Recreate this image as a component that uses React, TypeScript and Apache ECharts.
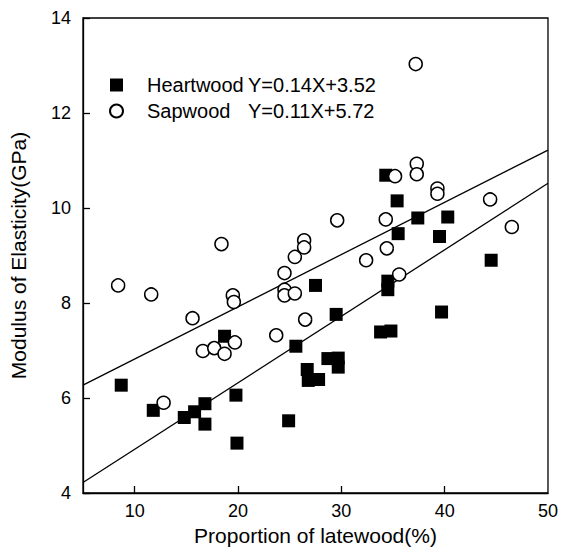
import React, { useEffect, useRef } from "react";
import * as echarts from "echarts";

const heartwoodX = [8.7, 11.8, 14.8, 15.8, 16.8, 16.8, 19.8, 19.9, 18.7, 24.9, 25.6, 26.7, 26.8, 27.8, 28.7, 29.7, 29.7, 27.5, 29.5, 33.8, 34.8, 34.5, 34.5, 34.3, 35.4, 35.5, 37.4, 39.5, 40.3, 39.7, 44.5];
const heartwoodY = [6.27, 5.74, 5.59, 5.71, 5.88, 5.45, 6.06, 5.05, 7.3, 5.52, 7.09, 6.6, 6.37, 6.39, 6.83, 6.84, 6.65, 8.37, 7.76, 7.39, 7.41, 8.46, 8.28, 10.69, 10.15, 9.46, 9.79, 9.4, 9.81, 7.81, 8.9];

const sapwoodX = [8.4, 11.6, 12.8, 15.6, 16.6, 17.7, 18.7, 19.7, 18.4, 19.5, 19.6, 23.7, 24.5, 24.5, 24.5, 25.5, 25.5, 26.4, 26.4, 26.5, 29.6, 32.4, 34.4, 34.3, 35.6, 35.2, 37.3, 37.3, 39.3, 39.3, 37.2, 44.4, 46.5];
const sapwoodY = [8.37, 8.18, 5.9, 7.68, 6.99, 7.05, 6.93, 7.17, 9.24, 8.16, 8.02, 7.32, 8.63, 8.28, 8.16, 8.2, 8.97, 9.32, 9.17, 7.65, 9.74, 8.9, 9.15, 9.76, 8.6, 10.67, 10.93, 10.71, 10.41, 10.3, 13.03, 10.18, 9.6];

// Regression lines as printed on the chart
const fitX = [5, 50];
const heartwoodFit = { slope: 0.14, intercept: 3.52 };
const sapwoodFit = { slope: 0.11, intercept: 5.72 };

const xLabelValues = [10, 20, 30, 40, 50];
const xTickValues = [10, 20, 30, 40];

const FONT = "Liberation Sans, Arial, sans-serif";

export default function App() {
  const ref = useRef<HTMLDivElement>(null);
  useEffect(() => {
    if (!ref.current) return;
    const chart = echarts.init(ref.current, undefined, { renderer: "svg" });
    const zip = (xs: number[], ys: number[]) => xs.map((x, i) => [x, ys[i]]);
    const fitLine = (f: { slope: number; intercept: number }) =>
      fitX.map((x) => [x, +(f.slope * x + f.intercept).toFixed(4)]);
    chart.setOption({
      animation: false,
      backgroundColor: "#fff",
      grid: {
        left: 76,
        right: 13,
        top: 18,
        bottom: 58,
        show: true,
        borderColor: "#000",
        borderWidth: 1.3,
      },
      legend: {
        orient: "vertical",
        left: 104,
        top: 70,
        itemWidth: 13,
        itemHeight: 13,
        itemGap: 6,
        data: [
          { name: "Heartwood", icon: "rect" },
          { name: "Sapwood", icon: "circle" },
        ],
        formatter: (name: string) =>
          name === "Heartwood"
            ? "{s|}{a|Heartwood}{b|Y=0.14X+3.52}"
            : "{s|}{a|Sapwood}{b|Y=0.11X+5.72}",
        textStyle: {
          color: "#000",
          fontFamily: FONT,
          fontSize: 20,
          rich: {
            s: { width: 19 },
            a: { width: 101, fontSize: 20, fontFamily: FONT, color: "#000" },
            b: { fontSize: 20, fontFamily: FONT, color: "#000" },
          },
        },
      },
      xAxis: {
        type: "value",
        min: 5,
        max: 50,
        name: "Proportion of latewood(%)",
        nameLocation: "middle",
        nameGap: 29,
        nameTextStyle: { color: "#000", fontFamily: FONT, fontSize: 21 },
        axisLine: { show: true, lineStyle: { color: "#000", width: 1.3 } },
        axisTick: { show: true, inside: true, length: 7, customValues: xTickValues, lineStyle: { color: "#000", width: 1.3 } },
        axisLabel: { customValues: xLabelValues, color: "#000", fontFamily: FONT, fontSize: 18, margin: 9 },
        splitLine: { show: false },
      },
      yAxis: {
        type: "value",
        min: 4,
        max: 14,
        interval: 2,
        name: "Modulus of Elasticity(GPa)",
        nameLocation: "middle",
        nameGap: 54,
        nameTextStyle: { color: "#000", fontFamily: FONT, fontSize: 21 },
        axisLine: { show: true, lineStyle: { color: "#000", width: 1.3 } },
        axisTick: { show: true, inside: true, length: 7, lineStyle: { color: "#000", width: 1.3 } },
        axisLabel: { color: "#000", fontFamily: FONT, fontSize: 18, margin: 12 },
        splitLine: { show: false },
      },
      series: [
        {
          name: "Heartwood fit",
          type: "line",
          data: fitLine(heartwoodFit),
          showSymbol: false,
          symbol: "none",
          lineStyle: { color: "#000", width: 1.3 },
          silent: true,
          z: 1,
        },
        {
          name: "Sapwood fit",
          type: "line",
          data: fitLine(sapwoodFit),
          showSymbol: false,
          symbol: "none",
          lineStyle: { color: "#000", width: 1.3 },
          silent: true,
          z: 1,
        },
        {
          name: "Heartwood",
          type: "scatter",
          symbol: "rect",
          symbolSize: 13,
          data: zip(heartwoodX, heartwoodY),
          itemStyle: { color: "#000", borderColor: "#000", borderWidth: 0, opacity: 1 },
          z: 2,
        },
        {
          name: "Sapwood",
          type: "scatter",
          symbol: "circle",
          symbolSize: 13,
          data: zip(sapwoodX, sapwoodY),
          itemStyle: { color: "#fff", borderColor: "#000", borderWidth: 1.5, opacity: 1 },
          z: 3,
        },
      ],
    });
    return () => chart.dispose();
  }, []);
  return (
    <div
      ref={ref}
      style={{ position: "fixed", left: 0, top: 0, width: 561, height: 551, background: "#fff" }}
    />
  );
}
